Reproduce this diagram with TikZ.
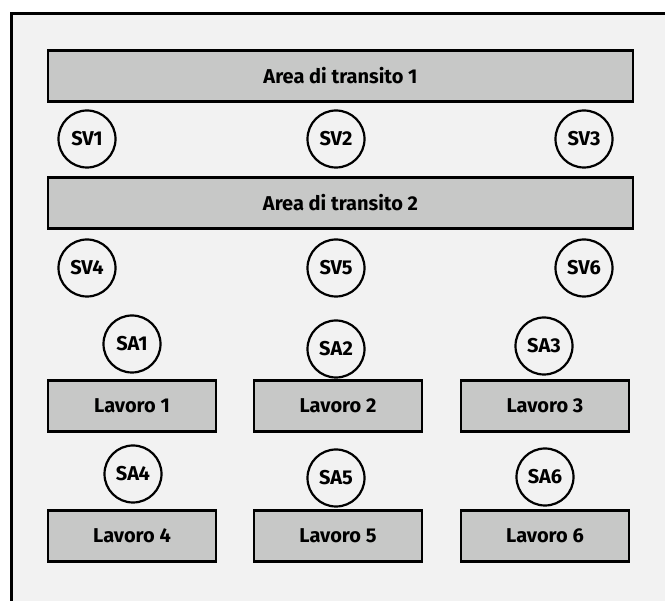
\documentclass[tikz,border=0pt]{standalone}
\usepackage{fontspec}
\setmainfont{Fira Sans}
\begin{document}
\begin{tikzpicture}[x=1pt,y=-1pt,
  font=\fontsize{20}{24}\selectfont\bfseries,
  area/.style={draw=black,line width=2.6pt,fill=boxgray,minimum width=585pt,minimum height=51pt,inner sep=0pt},
  job/.style={draw=black,line width=2.6pt,fill=boxgray,minimum width=168pt,minimum height=51pt,inner sep=0pt},
  stn/.style={circle,draw=black,line width=2.2pt,fill=bg,minimum size=57pt,inner sep=0pt}]
\definecolor{boxgray}{HTML}{C7C8C7}
\definecolor{bg}{HTML}{F2F2F2}
\useasboundingbox (0,0) rectangle (665,601);
\fill[white] (0,0) rectangle (665,601);
\begin{scope}
\clip (0,0) rectangle (665,601);
\draw[line width=3pt,fill=bg] (11,14) rectangle (680,620);
\end{scope}
\node[area] (a1) at (340.5,76) {Area di transito 1};
\node[area] (a2) at (340.5,203) {Area di transito 2};
\node[stn] (sv1) at (87,139) {SV1};
\node[stn] (sv2) at (336,139) {SV2};
\node[stn] (sv3) at (584,139) {SV3};
\node[stn] (sv4) at (87,268) {SV4};
\node[stn] (sv5) at (336,268) {SV5};
\node[stn] (sv6) at (584,268) {SV6};
\node[stn] (sa1) at (132,344) {SA1};
\node[stn] (sa2) at (336,349) {SA2};
\node[stn] (sa3) at (544,346) {SA3};
\node[job] (l1) at (132,406) {Lavoro 1};
\node[job] (l2) at (338,406) {Lavoro 2};
\node[job] (l3) at (545,406) {Lavoro 3};
\node[stn] (sa4) at (133,474) {SA4};
\node[stn] (sa5) at (336,478) {SA5};
\node[stn] (sa6) at (545,477) {SA6};
\node[job] (l4) at (132,536) {Lavoro 4};
\node[job] (l5) at (338,536) {Lavoro 5};
\node[job] (l6) at (545,536) {Lavoro 6};
\end{tikzpicture}
\end{document}
